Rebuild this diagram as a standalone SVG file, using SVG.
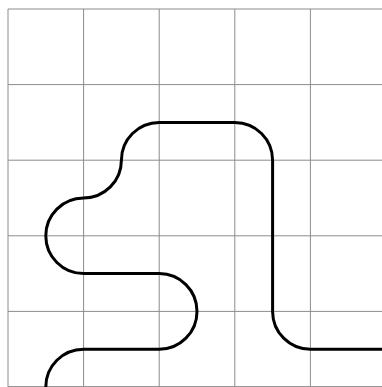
<svg xmlns="http://www.w3.org/2000/svg" width="382" height="387" viewBox="0 0 382 387">
<style>
.grid line{stroke:#8c8c8c;stroke-width:1;}
.route{fill:none;stroke:#000;stroke-width:3;}
</style>
<rect width="382" height="387" fill="#fff"/>
<g id="grid" class="grid">
<line x1="8" y1="9" x2="8" y2="387"/>
<line x1="83.6" y1="9" x2="83.6" y2="387"/>
<line x1="159.2" y1="9" x2="159.2" y2="387"/>
<line x1="234.8" y1="9" x2="234.8" y2="387"/>
<line x1="310.4" y1="9" x2="310.4" y2="387"/>
<line x1="8" y1="9" x2="382" y2="9"/>
<line x1="8" y1="84.6" x2="382" y2="84.6"/>
<line x1="8" y1="160.2" x2="382" y2="160.2"/>
<line x1="8" y1="235.8" x2="382" y2="235.8"/>
<line x1="8" y1="311.4" x2="382" y2="311.4"/>
<line x1="8" y1="386.6" x2="382" y2="386.6"/>
</g>
<g id="connectors">
<path class="route" d="M45.8,387 A37.8,37.8 0 0 1 83.6,349.2 L159.2,349.2 A37.8,37.8 0 0 0 159.2,273.6 L83.6,273.6 A37.8,37.8 0 0 1 83.6,198 A37.8,37.8 0 0 0 121.4,160.2 A37.8,37.8 0 0 1 159.2,122.4 L234.8,122.4 A37.8,37.8 0 0 1 272.6,160.2 L272.6,311.4 A37.8,37.8 0 0 0 310.4,349.2 L382,349.2"/>
</g>
</svg>
